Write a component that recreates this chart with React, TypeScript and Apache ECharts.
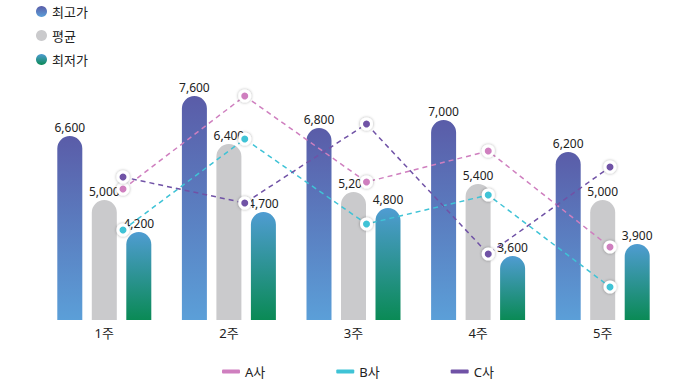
import React, { useEffect, useRef } from "react";
import * as echarts from "echarts";

const categories = ["1주", "2주", "3주", "4주", "5주"];
const highPrice = [6600, 7600, 6800, 7000, 6200];
const avgPrice = [5000, 6400, 5200, 5400, 5000];
const lowPrice = [4200, 4700, 4800, 3600, 3900];
const companyA = [5275, 7600, 5450, 6225, 3825];
const companyB = [4250, 6525, 4400, 5125, 2825];
const companyC = [5575, 4925, 6900, 3650, 5825];

const FONT = "'Noto Sans', 'Noto Sans CJK KR', sans-serif";

export default function App() {
  const ref = useRef<HTMLDivElement>(null);
  useEffect(() => {
    if (!ref.current) return;
    document.body.style.margin = "0";
    const chart = echarts.init(ref.current, null, { renderer: "svg" });
    const highGrad = new echarts.graphic.LinearGradient(0, 0, 0, 1, [
      { offset: 0, color: "#5a5ca8" },
      { offset: 1, color: "#5b9fd8" },
    ]);
    const lowGrad = new echarts.graphic.LinearGradient(0, 0, 0, 1, [
      { offset: 0, color: "#4f9cd2" },
      { offset: 1, color: "#0a8a55" },
    ]);
    const label = {
      show: true,
      position: "top" as const,
      distance: 3,
      fontSize: 12,
      color: "#222",
      fontFamily: FONT,
      formatter: (p: any) => Number(p.value).toLocaleString("en-US"),
    };
    const lineSeries = (name: string, data: number[], color: string) => ({
      name,
      type: "line",
      xAxisIndex: 1,
      yAxisIndex: 1,
      data,
      z: 5,
      symbol: "circle",
      symbolSize: 10,
      lineStyle: { color, width: 1.5, type: [5, 4] },
      itemStyle: {
        color,
        borderColor: "#fff",
        borderWidth: 3,
        shadowColor: "rgba(0,0,0,0.35)",
        shadowBlur: 3,
      },
    });
    chart.setOption({
      animation: false,
      textStyle: { fontFamily: FONT },
      legend: [
        {
          data: ["최고가", "평균", "최저가"],
          orient: "vertical",
          left: 31,
          top: 0,
          icon: "circle",
          itemWidth: 11,
          itemHeight: 11,
          itemGap: 11,
          textStyle: { fontSize: 13, color: "#222", fontFamily: FONT },
        },
        {
          data: ["A사", "B사", "C사"],
          orient: "horizontal",
          left: 217,
          top: 360,
          icon: "roundRect",
          itemWidth: 18,
          itemHeight: 4,
          itemGap: 71,
          itemStyle: { borderWidth: 0, shadowBlur: 0 },
          textStyle: { fontSize: 13, color: "#222", fontFamily: FONT },
        },
      ],
      grid: [
        { left: 42, right: 15, top: 80, bottom: 68 },
        { left: 123, right: 70, top: 80, bottom: 68 },
      ],
      xAxis: [
        {
          type: "category",
          data: categories,
          gridIndex: 0,
          axisLine: { show: false },
          axisTick: { show: false },
          axisLabel: { fontSize: 13, color: "#222", margin: 6, fontFamily: FONT },
        },
        {
          type: "category",
          data: categories,
          gridIndex: 1,
          boundaryGap: false,
          show: false,
        },
      ],
      yAxis: [
        { type: "value", min: 2000, max: 8000, gridIndex: 0, show: false },
        { type: "value", min: 2000, max: 8000, gridIndex: 1, show: false },
      ],
      series: [
        {
          name: "최고가",
          type: "bar",
          data: highPrice,
          barWidth: 25,
          barGap: "38%",
          itemStyle: { color: highGrad, borderRadius: [12.5, 12.5, 0, 0] },
          label,
        },
        {
          name: "평균",
          type: "bar",
          data: avgPrice,
          barWidth: 25,
          barGap: "38%",
          itemStyle: { color: "#cacacc", borderRadius: [12.5, 12.5, 0, 0] },
          label,
        },
        {
          name: "최저가",
          type: "bar",
          data: lowPrice,
          barWidth: 25,
          barGap: "38%",
          itemStyle: { color: lowGrad, borderRadius: [12.5, 12.5, 0, 0] },
          label,
        },
        lineSeries("A사", companyA, "#cf7fbf"),
        lineSeries("B사", companyB, "#3fc3d6"),
        lineSeries("C사", companyC, "#7052a6"),
      ],
    });
    return () => chart.dispose();
  }, []);
  return (
    <div
      ref={ref}
      style={{ position: "absolute", left: 0, top: 0, width: 680, height: 388 }}
    />
  );
}
